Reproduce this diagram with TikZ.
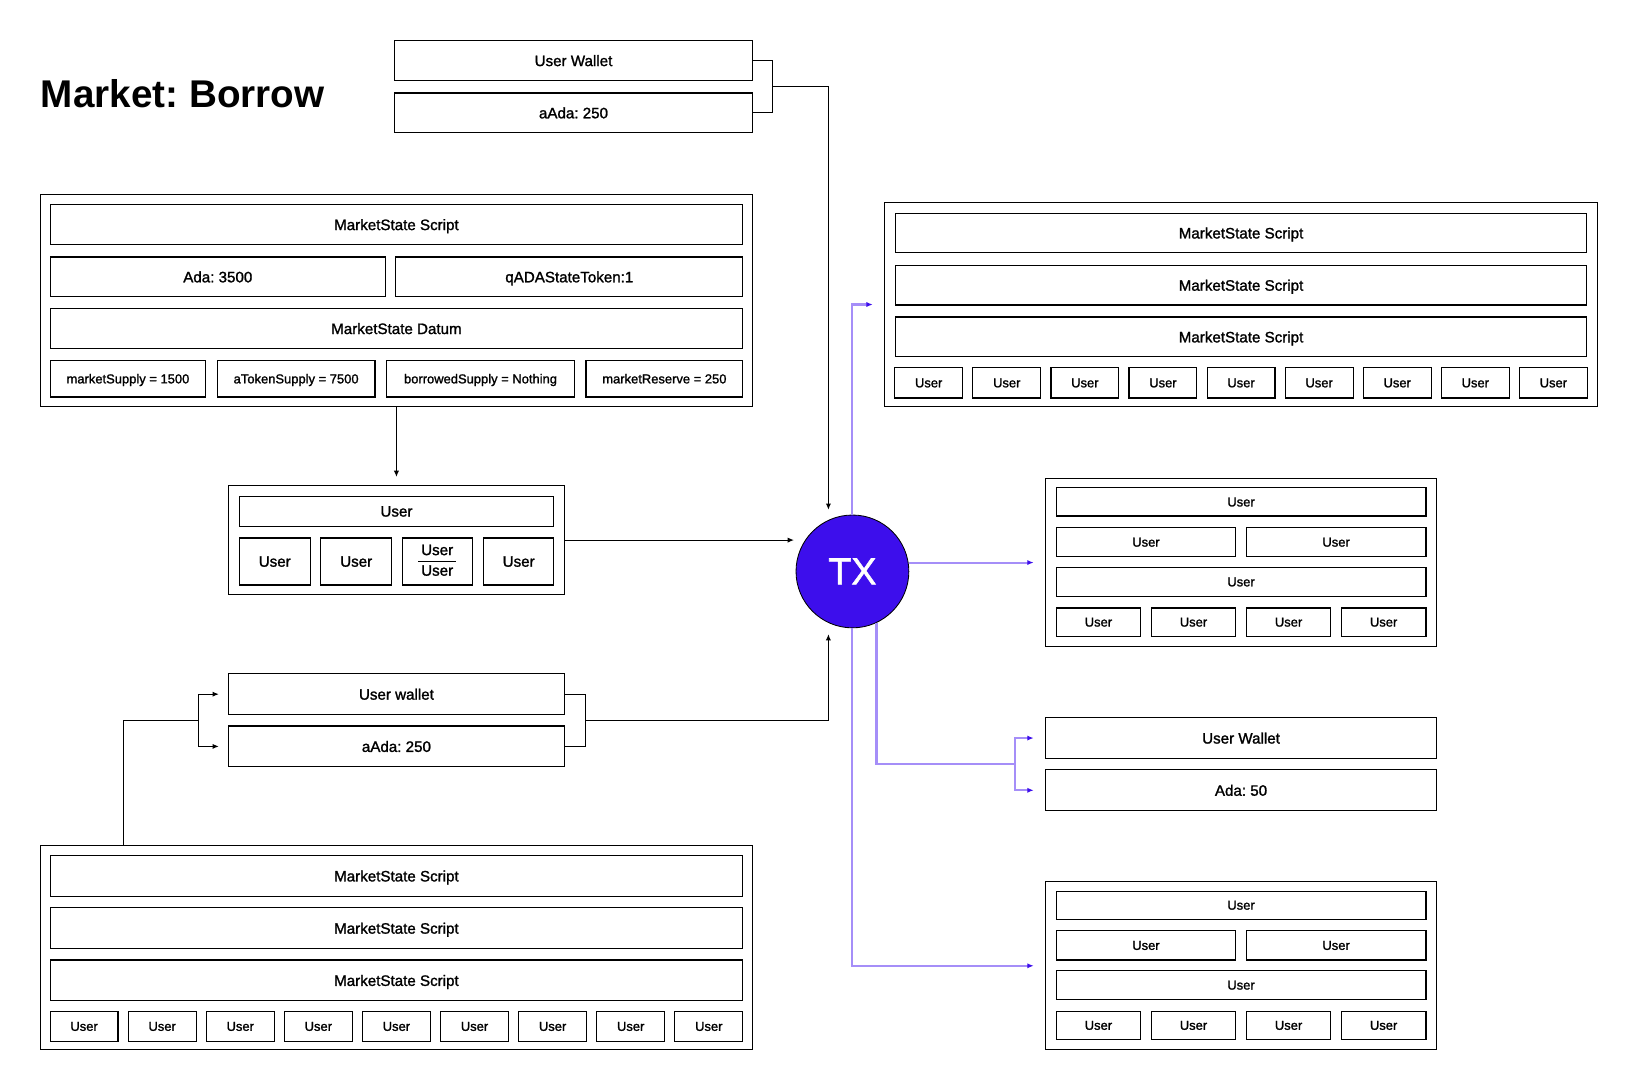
\documentclass[tikz,border=0pt]{standalone}
\usepackage{fontspec}
\setmainfont{Liberation Sans}
\newfontfamily\medfont{Liberation Sans}[FakeBold=1.4]
\usetikzlibrary{arrows.meta,calc}
\frenchspacing

\definecolor{txblue}{RGB}{61,14,236}
\definecolor{txline}{RGB}{165,142,248}

\tikzset{
	box/.style 2 args={minimum width=#1pt, minimum height=#2pt},
	fraccell/.style={draw, line width=1.1pt, inner sep=0pt, font=\medfont\fontsize{14.5}{17}\selectfont},
	cell/.style={fraccell, text depth=0pt},
	smalltext/.style={font=\medfont\fontsize{12.4}{15}\selectfont},
	outerbox/.style={draw, line width=1.1pt, inner sep=0pt},
	arr/.style={line width=1pt, -{Latex[length=6pt,width=5pt]}},
	parr/.style={txline, line width=2pt, -{Latex[length=6pt,width=5pt,color=txblue]}},
	pline/.style={txline, line width=2pt},
}

\begin{document}
\begin{tikzpicture}[x=1pt,y=-1pt]
	\fill[white] (0,0) rectangle (1568,1045);
	\useasboundingbox (0,0) rectangle (1568,1045);

	\node[anchor=base west, inner sep=0pt, font=\fontsize{37}{40}\selectfont\bfseries] (title) at (39,103) {Market: Borrow};

	% wallet in
	\node[cell, box={342}{38}] (uw1) at (549,58) {User Wallet};
	\node[cell, box={342}{38}] (uw2) at (549,108) {aAda: 250};

	% market state in
	\node[outerbox, box={681}{203}] (ms) at (379.5,287.5) {};
	\node[cell, box={663}{38}] (ms1) at (379.5,215) {MarketState Script};
	\node[cell, box={321}{38}] (msada) at (208.5,265) {Ada: 3500};
	\node[cell, box={332}{38}] (msq) at (545,265) {qADAStateToken:1};
	\node[cell, box={663}{39}] (msd) at (379.5,314.5) {MarketState Datum};
	\node[cell, smalltext, box={149}{35}] (d1) at (122.5,362.5) {marketSupply = 1500};
	\node[cell, smalltext, box={151}{35}] (d2) at (283.5,362.5) {aTokenSupply = 7500};
	\node[cell, smalltext, box={180}{35}] (d3) at (460,362.5) {borrowedSupply = Nothing};
	\node[cell, smalltext, box={150}{35}] (d4) at (636,362.5) {marketReserve = 250};

	% users
	\node[outerbox, box={321}{104}] (mu) at (379.5,517) {};
	\node[cell, box={301}{29}] (mu0) at (379.5,489.5) {User};
	\node[cell, box={68}{45}] (mu1) at (263,537.5) {User};
	\node[cell, box={68}{45}] (mu2) at (341,537.5) {User};
	\node[fraccell, box={67}{45}] (mu3) at (418.5,537.5) {\setlength{\arrayrulewidth}{1pt}\renewcommand{\arraystretch}{1.1}\begin{tabular}{@{\hspace{3pt}}c@{\hspace{3pt}}}User\\\hline User\end{tabular}};
	\node[cell, box={67}{45}] (mu4) at (496.5,537.5) {User};

	% wallet out (left)
	\node[cell, box={321}{39}] (lw1) at (379.5,664.5) {User wallet};
	\node[cell, box={321}{39}] (lw2) at (379.5,714.5) {aAda: 250};

	% market state (bottom left)
	\node[outerbox, box={681}{196}] (bl) at (379.5,907) {};
	\foreach \y/\n in {838.5/1,888.5/2,938.5/3}{
		\node[cell, box={663}{39}] (bl\n) at (379.5,\y) {MarketState Script};
	}
	\foreach \i in {0,...,8}{
		\node[cell, smalltext, box={65}{29}] (blu\i) at ({80.5+74.75*\i},982.5) {User};
	}

	% market state (top right)
	\node[outerbox, box={682}{195}] (rt) at (1188,291.5) {};
	\foreach \y/\n in {223/1,273/2,322.5/3}{
		\node[cell, box={662}{38}] (rt\n) at (1188,\y) {MarketState Script};
	}
	\foreach \i in {0,...,8}{
		\node[cell, smalltext, box={65}{29}] (rtu\i) at ({889+74.75*\i},366.5) {User};
	}

	% users out
	\foreach \o/\n in {0/a,386/b}{
		\node[outerbox, box={374}{161}] (r\n) at (1188,{538.5+\o}) {};
		\node[cell, smalltext, box={354}{27}] (r\n0) at (1188,{480.5+\o}) {User};
		\node[cell, smalltext, box={172}{28}] (r\n1) at (1097,{519+\o}) {User};
		\node[cell, smalltext, box={172}{28}] (r\n2) at (1279,{519+\o}) {User};
		\node[cell, smalltext, box={354}{28}] (r\n3) at (1188,{557+\o}) {User};
		\foreach \i in {0,...,3}{
			\node[cell, smalltext, box={81}{27}] (r\n u\i) at ({1051.5+91*\i},{595.5+\o}) {User};
		}
	}

	% wallet out (right)
	\node[cell, box={374}{39}] (rw1) at (1188,706.5) {User Wallet};
	\node[cell, box={374}{39}] (rw2) at (1188,756.5) {Ada: 50};

	% inputs
	\draw[line width=1pt] (uw1.east) -- ++(19,0) |- (uw2.east);
	\coordinate (uwm) at ($(uw1.east)!0.5!(uw2.east)+(19,0)$);
	\coordinate (txn) at (793,488);
	\draw[arr] (uwm) -| (txn);

	\coordinate (muin) at ($(ms.south)+(0,67)$);
	\draw[arr] (ms.south) -- (muin);

	\coordinate (txw) at (760,517);
	\draw[arr] (mu.east) -- (txw);

	\draw[line width=1pt] (lw1.east) -- ++(20,0) |- (lw2.east);
	\coordinate (lwm) at ($(lw1.east)!0.5!(lw2.east)+(20,0)$);
	\coordinate (txs) at (793,607);
	\draw[arr] (lwm) -| (txs);

	\coordinate (blo) at ($(bl.north west)+(80,0)$);
	\coordinate (lwb) at (190,689.5);
	\coordinate (lw1in) at ($(lw1.west)+(-9,0)$);
	\coordinate (lw2in) at ($(lw2.west)+(-9,0)$);
	\draw[line width=1pt] (blo) |- (lwb);
	\draw[arr] (lwb) |- (lw1in);
	\draw[arr] (lwb) |- (lw2in);

	% outputs
	\node[circle, draw, line width=0.8pt, fill=txblue, minimum size=108pt, inner sep=0pt, text=white, font=\medfont\fontsize{36}{40}\selectfont] (tx) at (816,547) {TX};

	\coordinate (rtin) at ($(rt.west)+(-11,0)$);
	\draw[parr] (tx.north) |- (rtin);
	\coordinate (rain) at ($(ra.west)+(-11,0)$);
	\draw[parr] (tx.east |- rain) -- (rain);
	\coordinate (rwb) at (972,731.5);
	\coordinate (rw1in) at ($(rw1.west)+(-11,0)$);
	\coordinate (rw2in) at ($(rw2.west)+(-11,0)$);
	\draw[pline] (tx.-65) |- (rwb);
	\draw[parr] (rwb) |- (rw1in);
	\draw[parr] (rwb) |- (rw2in);
	\coordinate (rbin) at ($(rb.west)+(-11,0)$);
	\draw[parr] (tx.south) |- (rbin);
\end{tikzpicture}
\end{document}
